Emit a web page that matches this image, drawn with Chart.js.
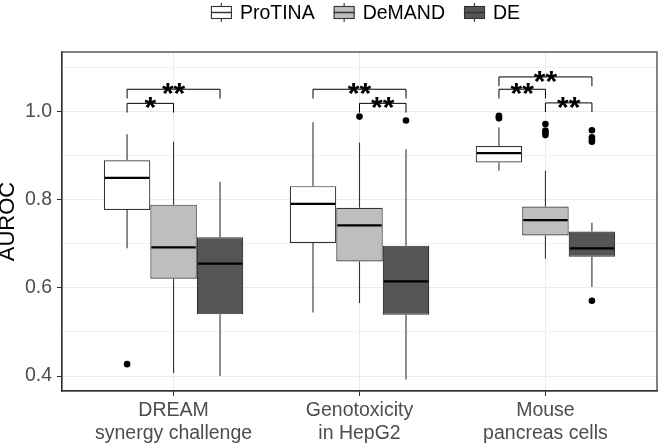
<!DOCTYPE html>
<html>
<head>
<meta charset="utf-8">
<script src="https://cdn.jsdelivr.net/npm/chart.js@4.4.1/dist/chart.umd.min.js"></script>
<style>
  html, body { margin: 0; padding: 0; background: #fff; }
</style>
</head>
<body>
<canvas id="auroc" width="661" height="444"></canvas>
<script>
// ---- data ----
var categories = [['DREAM', 'synergy challenge'], ['Genotoxicity', 'in HepG2'], ['Mouse', 'pancreas cells']];
var methods = ['ProTINA', 'DeMAND', 'DE'];
var fills = ['#FFFFFF', '#BEBEBE', '#555555'];

// box stats per category: [lower whisker, Q1, median, Q3, upper whisker]
var protinaBox = [[0.690, 0.777, 0.850, 0.890, 0.949], [0.544, 0.702, 0.791, 0.831, 0.976], [0.866, 0.885, 0.906, 0.922, 0.964]];
var demandBox = [[0.407, 0.621, 0.692, 0.789, 0.932], [0.566, 0.660, 0.742, 0.782, 0.930], [0.666, 0.719, 0.754, 0.785, 0.866]];
var deBox = [[0.400, 0.540, 0.655, 0.715, 0.841], [0.392, 0.539, 0.615, 0.696, 0.915], [0.602, 0.671, 0.690, 0.728, 0.748]];

// outliers per category
var protinaOut = [[0.427], [], [0.991, 0.988, 0.985]];
var demandOut = [[], [0.989], [0.972, 0.957, 0.952, 0.947]];
var deOut = [[], [0.980], [0.958, 0.942, 0.936, 0.932, 0.571]];

var yTicks = [0.4, 0.5, 0.6, 0.7, 0.8, 0.9, 1.0, 1.1];
var yLabelled = [0.4, 0.6, 0.8, 1.0];

// significance brackets: [category, from method, to method, height, label]
var brackets = [
  [0, 0, 2, 1.051, '**'], [0, 0, 1, 1.019, '*'],
  [1, 0, 2, 1.051, '**'], [1, 1, 2, 1.019, '**'],
  [2, 0, 2, 1.079, '**'], [2, 0, 1, 1.051, '**'], [2, 1, 2, 1.020, '**']
];

var FONT = '"Liberation Sans", Arial, sans-serif';
var boxes = [protinaBox, demandBox, deBox];
var outs = [protinaOut, demandOut, deOut];
var groupWidth = 0.75;
var dodge = groupWidth / methods.length;

function isLabelled(v) {
  return yLabelled.some(function (l) { return Math.abs(l - v) < 1e-6; });
}

// ---- datasets ----
var datasets = [];
boxes.forEach(function (b, s) {
  datasets.push({
    type: 'bar',
    label: methods[s],
    data: b.map(function (v, i) { return { x: i + 1, y: [v[1], v[3]] }; }),
    backgroundColor: fills[s],
    borderColor: '#333333',
    borderWidth: 1.2,
    borderSkipped: false,
    barPercentage: 1,
    categoryPercentage: groupWidth
  });
});
outs.forEach(function (o, s) {
  var pts = [];
  o.forEach(function (vals, i) {
    vals.forEach(function (v) { pts.push({ x: i + 1 + (s - 1) * dodge, y: v }); });
  });
  datasets.push({
    type: 'scatter',
    label: methods[s] + ' outliers',
    data: pts,
    pointRadius: 3.3,
    pointBackgroundColor: '#000000',
    pointBorderWidth: 0
  });
});

// ---- whiskers, medians, brackets, border, legend ----
var boxplotParts = {
  id: 'boxplotParts',
  beforeDatasetsDraw: function (chart) {
    var y = chart.scales.y, c = chart.ctx;
    c.save();
    c.strokeStyle = '#333333';
    c.lineWidth = 1.1;
    boxes.forEach(function (b, s) {
      chart.getDatasetMeta(s).data.forEach(function (bar, i) {
        var st = b[i];
        c.beginPath();
        c.moveTo(bar.x, y.getPixelForValue(st[4]));
        c.lineTo(bar.x, y.getPixelForValue(st[3]));
        c.moveTo(bar.x, y.getPixelForValue(st[1]));
        c.lineTo(bar.x, y.getPixelForValue(st[0]));
        c.stroke();
      });
    });
    c.restore();
  },
  afterDatasetsDraw: function (chart) {
    var y = chart.scales.y, c = chart.ctx;
    c.save();
    // medians
    c.strokeStyle = '#000000';
    c.lineWidth = 2.2;
    boxes.forEach(function (b, s) {
      chart.getDatasetMeta(s).data.forEach(function (bar, i) {
        var py = y.getPixelForValue(b[i][2]);
        c.beginPath();
        c.moveTo(bar.x - bar.width / 2 + 1, py);
        c.lineTo(bar.x + bar.width / 2 - 1, py);
        c.stroke();
      });
    });
    // significance brackets
    c.lineWidth = 1;
    c.strokeStyle = '#000000';
    c.fillStyle = '#000000';
    c.font = 'bold 30px ' + FONT;
    c.textAlign = 'center';
    c.textBaseline = 'alphabetic';
    brackets.forEach(function (br) {
      var x1 = chart.getDatasetMeta(br[1]).data[br[0]].x;
      var x2 = chart.getDatasetMeta(br[2]).data[br[0]].x;
      var top = y.getPixelForValue(br[3]);
      var leg = y.getPixelForValue(br[3] - 0.021);
      c.beginPath();
      c.moveTo(x1, leg);
      c.lineTo(x1, top);
      c.lineTo(x2, top);
      c.lineTo(x2, leg);
      c.stroke();
      c.fillText(br[4], (x1 + x2) / 2, top + 14);
    });
    c.restore();
  },
  afterDraw: function (chart) {
    var a = chart.chartArea, c = chart.ctx;
    c.save();
    // panel border
    c.strokeStyle = '#333333';
    c.lineWidth = 1.2;
    c.strokeRect(a.left, a.top, a.right - a.left, a.bottom - a.top);

    // legend
    c.font = '19.5px ' + FONT;
    c.textBaseline = 'middle';
    c.textAlign = 'left';
    var iconW = 21, gap = 8, spacing = 19;
    var total = 0;
    methods.forEach(function (m, s) {
      total += iconW + gap + c.measureText(m).width + (s < methods.length - 1 ? spacing : 0);
    });
    var x = (a.left + a.right) / 2 + 6 - total / 2;
    var cy = 12.5;
    methods.forEach(function (m, s) {
      var cx = x + iconW / 2;
      c.strokeStyle = '#333333';
      c.lineWidth = 1.1;
      c.beginPath();
      c.moveTo(cx, cy - 9.5); c.lineTo(cx, cy - 6);
      c.moveTo(cx, cy + 6); c.lineTo(cx, cy + 9.5);
      c.stroke();
      c.fillStyle = fills[s];
      c.fillRect(x, cy - 6, iconW, 12);
      c.strokeRect(x + 0.5, cy - 6, iconW - 1, 12);
      c.lineWidth = 1.5;
      c.beginPath();
      c.moveTo(x, cy); c.lineTo(x + iconW, cy);
      c.stroke();
      c.fillStyle = '#000000';
      c.fillText(m, x + iconW + gap, cy + 1);
      x += iconW + gap + c.measureText(m).width + spacing;
    });
    c.restore();
  }
};

// ---- chart ----
var ctx = document.getElementById('auroc').getContext('2d');
var chart = new Chart(ctx, {
  type: 'bar',
  data: { datasets: datasets },
  options: {
    responsive: false,
    animation: false,
    devicePixelRatio: 1,
    layout: { padding: { top: 52, right: 2, left: 0, bottom: 0 } },
    plugins: {
      legend: { display: false },
      tooltip: { enabled: false }
    },
    scales: {
      x: {
        type: 'linear',
        min: 0.4,
        max: 3.6,
        offset: false,
        afterBuildTicks: function (sc) {
          sc.ticks = categories.map(function (c, i) { return { value: i + 1 }; });
        },
        afterFit: function (sc) { sc.height = 53; },
        ticks: {
          callback: function (v, i) { return categories[i]; },
          color: '#4D4D4D',
          font: { family: FONT, size: 19.5, lineHeight: '23px' },
          padding: 3,
          maxRotation: 0,
          autoSkip: false
        },
        grid: { color: '#EBEBEB', lineWidth: 1, tickColor: '#333333', tickLength: 5, offset: false },
        border: { color: '#333333', width: 1.2 }
      },
      y: {
        type: 'linear',
        min: 0.366,
        max: 1.1356,
        afterBuildTicks: function (sc) {
          sc.ticks = yTicks.map(function (v) { return { value: v }; });
        },
        afterFit: function (sc) { sc.width = 62; },
        ticks: {
          callback: function (v) { return isLabelled(v) ? v.toFixed(1) : ''; },
          color: '#4D4D4D',
          font: { family: FONT, size: 19.5 },
          padding: 5
        },
        grid: {
          color: function (c) { return isLabelled(c.tick.value) ? '#EBEBEB' : '#F2F2F2'; },
          lineWidth: 1,
          tickColor: function (c) { return isLabelled(c.tick.value) ? '#333333' : 'rgba(0,0,0,0)'; },
          tickLength: 5
        },
        border: { color: '#333333', width: 1.2 },
        title: {
          display: true,
          text: 'AUROC',
          color: '#000000',
          font: { family: FONT, size: 22, lineHeight: 0.75 },
          padding: { top: 0, bottom: 0 }
        }
      }
    }
  },
  plugins: [boxplotParts]
});
</script>
</body>
</html>
